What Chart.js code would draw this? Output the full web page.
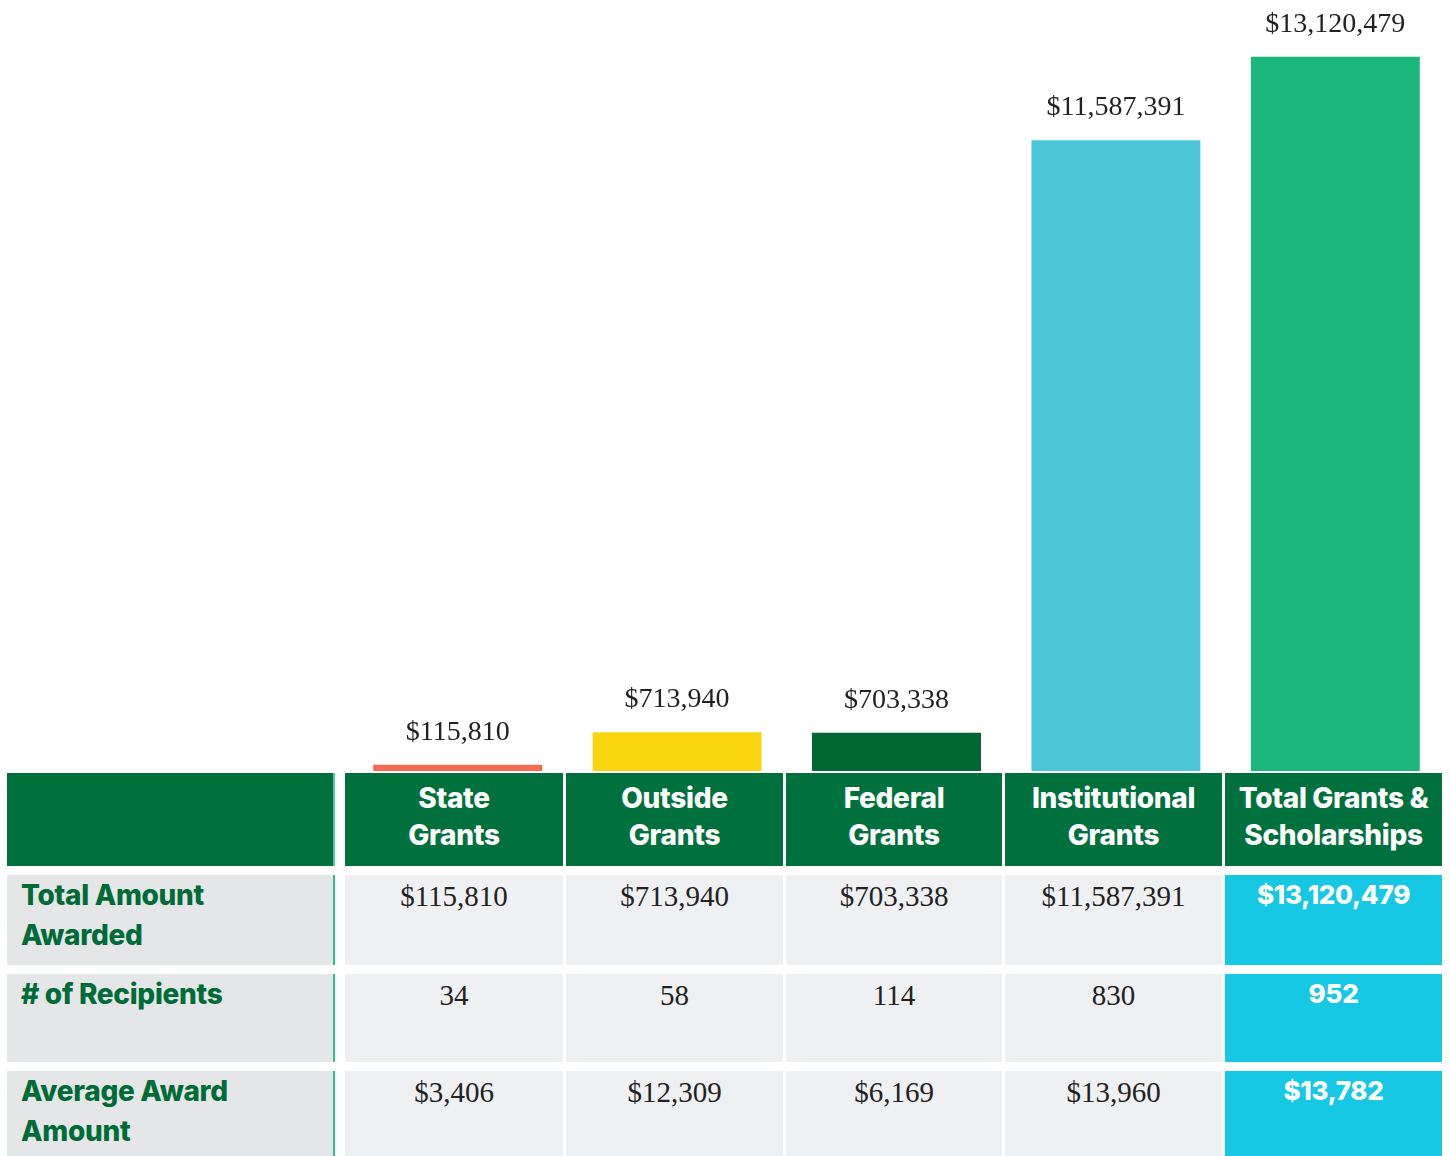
<!DOCTYPE html>
<html>
<head>
<meta charset="utf-8">
<script src="https://cdn.jsdelivr.net/npm/chart.js@4.4.0/dist/chart.umd.min.js"></script>
<style>
  body { margin: 0; background: #fff; width: 1450px; height: 1156px; overflow: hidden; position: relative; }
  #barChart { position: absolute; left: 348px; top: 0; }
  .cell { position: absolute; box-sizing: border-box; }
  .head { background: #00703c; color: #fff; font: 800 28px Inter, Roboto, sans-serif; letter-spacing: -0.3px; text-align: center; line-height: 37px; padding-top: 7px; }
  .lab { background: #e5e6e8; color: #006b36; font: 800 28px Inter, Roboto, sans-serif; letter-spacing: -0.3px; line-height: 40px; padding: 0 0 0 14px; border-right: 2px solid #2cc08a; }
  .val { background: #eff0f2; color: #222; font: 29px "Liberation Serif", serif; text-align: center; padding-top: 3px; line-height: 36px; }
  .tot { background: #17c8e4; color: #fff; font: 800 26px Inter, Roboto, sans-serif; letter-spacing: -0.3px; text-align: center; padding-top: 2px; line-height: 36px; }
</style>
</head>
<body>
<canvas id="barChart" width="1097" height="772"></canvas>
<div id="table"></div>
<script>
// data
var categories = ['State Grants', 'Outside Grants', 'Federal Grants', 'Institutional Grants', 'Total Grants & Scholarships'];
var headerLines = [['State', 'Grants'], ['Outside', 'Grants'], ['Federal', 'Grants'], ['Institutional', 'Grants'], ['Total Grants &', 'Scholarships']];
var amounts = [115810, 713940, 703338, 11587391, 13120479];
var recipients = [34, 58, 114, 830, 952];
var averageAward = [3406, 12309, 6169, 13960, 13782];
var rowLabels = [['Total Amount', 'Awarded'], ['# of Recipients'], ['Average Award', 'Amount']];
var barColors = ['#f26b50', '#f9d50f', '#006633', '#4cc5d8', '#1bb57e'];

function money(v) {
    return '$' + v.toLocaleString('en-US');
}

// value labels above the bars
var valueLabels = {
    id: 'valueLabels',
    afterDatasetsDraw: function (chart) {
        var ctx = chart.ctx;
        var meta = chart.getDatasetMeta(0);
        ctx.save();
        ctx.font = '28px "Liberation Serif", serif';
        ctx.fillStyle = '#222';
        ctx.textAlign = 'center';
        ctx.textBaseline = 'alphabetic';
        meta.data.forEach(function (bar, i) {
            ctx.fillText(money(amounts[i]), bar.x, bar.y - 25);
        });
        ctx.restore();
    }
};

new Chart(document.getElementById('barChart'), {
    type: 'bar',
    data: {
        labels: categories,
        datasets: [{
            label: 'Total Amount Awarded',
            data: amounts,
            backgroundColor: barColors,
            borderWidth: 0,
            categoryPercentage: 1,
            barPercentage: 0.77
        }]
    },
    options: {
        responsive: false,
        animation: false,
        layout: { padding: { top: 9, bottom: 1 } },
        plugins: { legend: { display: false }, tooltip: { enabled: false } },
        scales: {
            x: { display: false },
            y: { display: false, min: 0, max: 14000000 }
        }
    },
    plugins: [valueLabels]
});

// table under the chart
var colLeft = [345, 566, 786, 1005, 1225];
var colRight = [563, 783, 1002, 1222, 1442];
var rowTop = [875, 974, 1071];
var rowBottom = [965, 1062, 1160];
var rows = [amounts.map(money), recipients.map(String), averageAward.map(money)];
var table = document.getElementById('table');

function addCell(cls, x, y, w, h, html) {
    var d = document.createElement('div');
    d.className = 'cell ' + cls;
    d.style.left = x + 'px';
    d.style.top = y + 'px';
    d.style.width = w + 'px';
    d.style.height = h + 'px';
    d.innerHTML = html;
    table.appendChild(d);
}

addCell('head', 7, 773, 328, 93, '');
table.lastChild.style.borderRight = '2px solid #5fc99a';
for (var c = 0; c < 5; c++) {
    addCell('head', colLeft[c], 773, colRight[c] - colLeft[c], 93, headerLines[c].join('<br>'));
}
for (var r = 0; r < 3; r++) {
    var h = rowBottom[r] - rowTop[r];
    addCell('lab', 7, rowTop[r], 328, h, rowLabels[r].join('<br>'));
    for (var c = 0; c < 5; c++) {
        addCell(c == 4 ? 'tot' : 'val', colLeft[c], rowTop[r], colRight[c] - colLeft[c], h, rows[r][c]);
    }
}
</script>
</body>
</html>
